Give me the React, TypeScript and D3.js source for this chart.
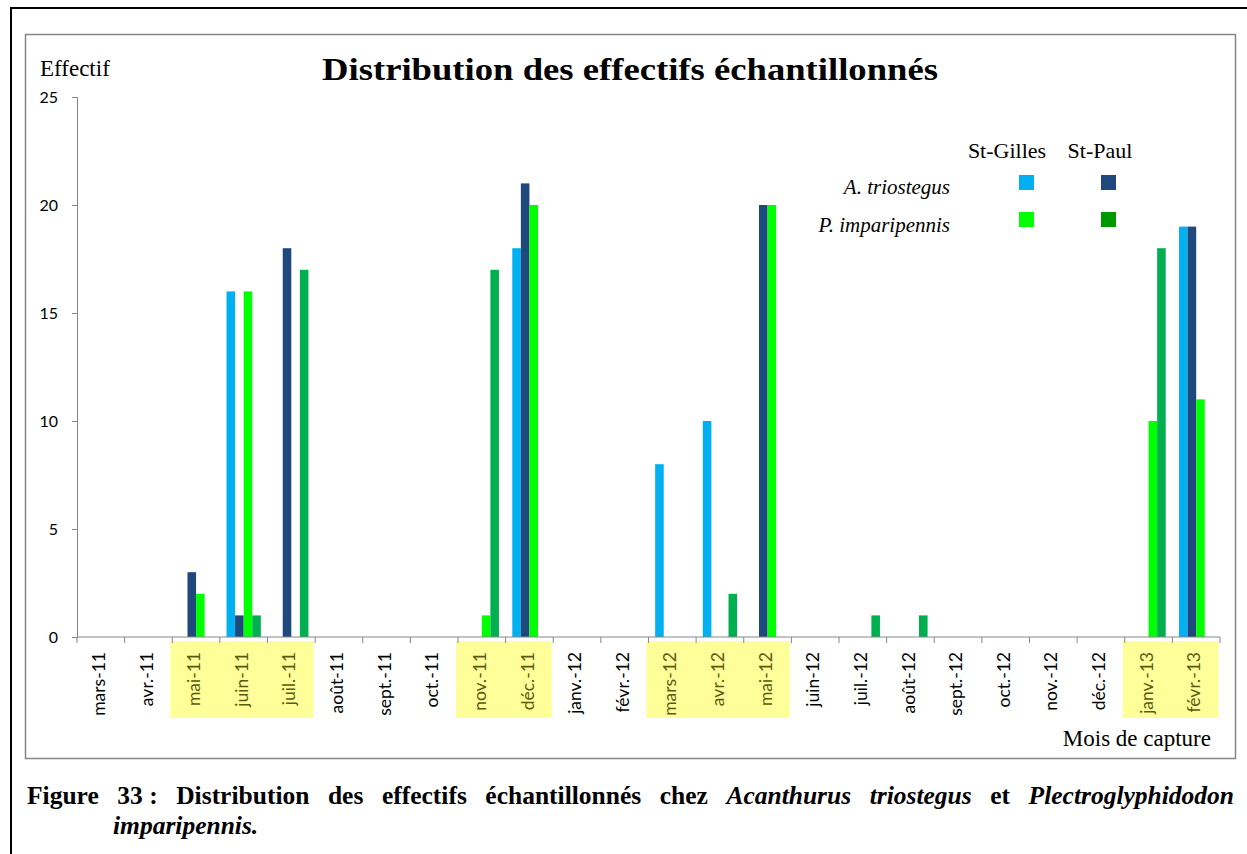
import React, { useEffect, useRef } from 'react';
import * as d3 from 'd3';

const months = ['mars-11', 'avr.-11', 'mai-11', 'juin-11', 'juil.-11', 'août-11', 'sept.-11', 'oct.-11', 'nov.-11', 'déc.-11', 'janv.-12', 'févr.-12',
  'mars-12', 'avr.-12', 'mai-12', 'juin-12', 'juil.-12', 'août-12', 'sept.-12', 'oct.-12', 'nov.-12', 'déc.-12', 'janv.-13', 'févr.-13'];

const triostegusStGilles = [0, 0, 0, 16, 0, 0, 0, 0, 0, 18, 0, 0, 8, 10, 0, 0, 0, 0, 0, 0, 0, 0, 0, 19];
const triostegusStPaul = [0, 0, 3, 1, 18, 0, 0, 0, 0, 21, 0, 0, 0, 0, 20, 0, 0, 0, 0, 0, 0, 0, 0, 19];
const imparipennisStGilles = [0, 0, 2, 16, 0, 0, 0, 0, 1, 20, 0, 0, 0, 0, 20, 0, 0, 0, 0, 0, 0, 0, 10, 11];
const imparipennisStPaul = [0, 0, 0, 1, 17, 0, 0, 0, 17, 0, 0, 0, 0, 2, 0, 0, 1, 1, 0, 0, 0, 0, 18, 0];

// months with a yellow highlight behind the label
const highlighted = ['mai-11', 'juin-11', 'juil.-11', 'nov.-11', 'déc.-11', 'mars-12', 'avr.-12', 'mai-12', 'janv.-13', 'févr.-13'];

const yTicks = [0, 5, 10, 15, 20, 25];

const series = [
  { key: 'ATG', values: triostegusStGilles, color: '#00B0F0' },
  { key: 'ATP', values: triostegusStPaul, color: '#1F497D' },
  { key: 'PIG', values: imparipennisStGilles, color: '#00FF00' },
  { key: 'PIP', values: imparipennisStPaul, color: '#00B050' },
];

const captionWords = [
  { t: 'Figure', i: false }, { t: '33 :', i: false }, { t: 'Distribution', i: false }, { t: 'des', i: false },
  { t: 'effectifs', i: false }, { t: 'échantillonnés', i: false }, { t: 'chez', i: false },
  { t: 'Acanthurus', i: true }, { t: 'triostegus', i: true }, { t: 'et', i: false }, { t: 'Plectroglyphidodon', i: true },
];

const W = 1247;
const H = 854;
const serif = '"Liberation Serif", serif';
const sans = 'Lato, "Liberation Sans", sans-serif';

const App = () => {
  const svgRef = useRef<SVGSVGElement>(null);

  useEffect(() => {
    const svg = d3.select(svgRef.current);
    svg.selectAll('*').remove();

    const margin = { left: 77, right: 1220, top: 97, bottom: 637 };

    const x = d3.scaleBand().domain(months).range([margin.left, margin.right]).padding(0);
    const bw = x.bandwidth();
    const gw = bw * 0.72;
    const x1 = d3.scaleBand().domain(series.map(s => s.key)).range([(bw - gw) / 2, (bw + gw) / 2]).padding(0);
    const y = d3.scaleLinear().domain([0, 25]).range([margin.bottom, margin.top]);

    // outer frame (black) and chart frame (gray)
    svg.append('path')
      .attr('d', `M11,${H} V8 H${W + 5}`)
      .attr('fill', 'none').attr('stroke', '#000').attr('stroke-width', 2);
    svg.append('rect')
      .attr('x', 25.5).attr('y', 34.5).attr('width', 1210).attr('height', 724)
      .attr('fill', '#fff').attr('stroke', '#868686').attr('stroke-width', 1.5);

    // yellow highlights
    svg.append('g').selectAll('rect')
      .data(months.filter(m => highlighted.includes(m)))
      .enter().append('rect')
      .attr('x', d => (x(d) as number) - 2)
      .attr('y', 641)
      .attr('width', bw + 0.5)
      .attr('height', 77)
      .attr('fill', '#FFFF99');

    // bars
    series.forEach(s => {
      svg.append('g').selectAll('rect')
        .data(s.values.map((v, i) => ({ m: months[i], v })).filter(d => d.v > 0))
        .enter().append('rect')
        .attr('x', d => (x(d.m) as number) + (x1(s.key) as number))
        .attr('y', d => y(d.v))
        .attr('width', x1.bandwidth())
        .attr('height', d => y(0) - y(d.v))
        .attr('fill', s.color);
    });

    // y axis
    const yAxis = svg.append('g')
      .attr('transform', `translate(${margin.left},0)`)
      .call(d3.axisLeft(y).tickValues(yTicks).tickSize(5).tickPadding(14));
    yAxis.select('.domain').attr('stroke', '#868686');
    yAxis.selectAll('line').attr('stroke', '#868686');
    yAxis.selectAll('text').style('font-family', sans).attr('font-size', 16).attr('fill', '#000');

    // x axis
    const xAxis = svg.append('g').attr('transform', `translate(0,${margin.bottom})`);
    xAxis.append('line')
      .attr('x1', margin.left).attr('x2', margin.right)
      .attr('stroke', '#868686').attr('stroke-width', 1);
    xAxis.selectAll('.tk')
      .data([...months.map(m => x(m) as number), margin.right])
      .enter().append('line')
      .attr('x1', d => d).attr('x2', d => d)
      .attr('y1', 0).attr('y2', 6)
      .attr('stroke', '#868686');
    xAxis.selectAll('.lbl')
      .data(months)
      .enter().append('text')
      .attr('transform', d => `translate(${(x(d) as number) + bw / 2 - 2},15) rotate(-90)`)
      .attr('text-anchor', 'end')
      .attr('dy', '0.35em')
      .style('font-family', sans)
      .attr('font-size', 17.5)
      .attr('fill', d => (highlighted.includes(d) ? '#5a5a10' : '#000'))
      .text(d => d);

    // titles
    svg.append('text')
      .attr('x', 630).attr('y', 80)
      .attr('text-anchor', 'middle')
      .style('font-family', serif)
      .attr('font-weight', 'bold')
      .attr('font-size', 32)
      .attr('textLength', 616)
      .attr('lengthAdjust', 'spacingAndGlyphs')
      .text('Distribution des effectifs échantillonnés');
    svg.append('text')
      .attr('x', 40).attr('y', 76)
      .style('font-family', serif).attr('font-size', 23)
      .text('Effectif');
    svg.append('text')
      .attr('x', 1211).attr('y', 746)
      .attr('text-anchor', 'end')
      .style('font-family', serif).attr('font-size', 23)
      .text('Mois de capture');

    // legend
    const leg = svg.append('g');
    leg.append('text').attr('x', 1007).attr('y', 158).attr('text-anchor', 'middle')
      .style('font-family', serif).attr('font-size', 22).text('St-Gilles');
    leg.append('text').attr('x', 1100).attr('y', 158).attr('text-anchor', 'middle')
      .style('font-family', serif).attr('font-size', 22).text('St-Paul');
    leg.append('text').attr('x', 950).attr('y', 194).attr('text-anchor', 'end')
      .style('font-family', serif).attr('font-style', 'italic').attr('font-size', 21).text('A. triostegus');
    leg.append('text').attr('x', 950).attr('y', 232).attr('text-anchor', 'end')
      .style('font-family', serif).attr('font-style', 'italic').attr('font-size', 21).text('P. imparipennis');
    const swatches = [
      { x: 1019, y: 175, c: '#00B0F0' }, { x: 1101, y: 175, c: '#1F497D' },
      { x: 1019, y: 212, c: '#00FF00' }, { x: 1101, y: 212, c: '#009A00' },
    ];
    leg.selectAll('rect').data(swatches).enter().append('rect')
      .attr('x', d => d.x).attr('y', d => d.y).attr('width', 15).attr('height', 15)
      .attr('fill', d => d.c);

    // caption, justified across the frame width
    const cap = svg.append('g');
    const words = cap.selectAll('text').data(captionWords).enter().append('text')
      .attr('y', 804)
      .style('font-family', serif)
      .attr('font-weight', 'bold')
      .attr('font-size', 25.5)
      .attr('font-style', d => (d.i ? 'italic' : 'normal'))
      .text(d => d.t);
    const widths: number[] = [];
    words.each(function () { widths.push((this as SVGTextElement).getComputedTextLength()); });
    const left = 27;
    const right = 1234;
    const gap = (right - left - d3.sum(widths)) / (widths.length - 1);
    let cx = left;
    words.attr('x', (_d, i) => {
      const v = cx;
      cx += widths[i] + gap;
      return v;
    });
    cap.append('text')
      .attr('x', 113).attr('y', 834)
      .style('font-family', serif)
      .attr('font-weight', 'bold')
      .attr('font-style', 'italic')
      .attr('font-size', 25.5)
      .text('imparipennis.');
  }, []);

  return (
    <svg ref={svgRef} width={W} height={H}
      style={{ position: 'absolute', left: 0, top: 0, background: '#fff' }} />
  );
};

export default App;
